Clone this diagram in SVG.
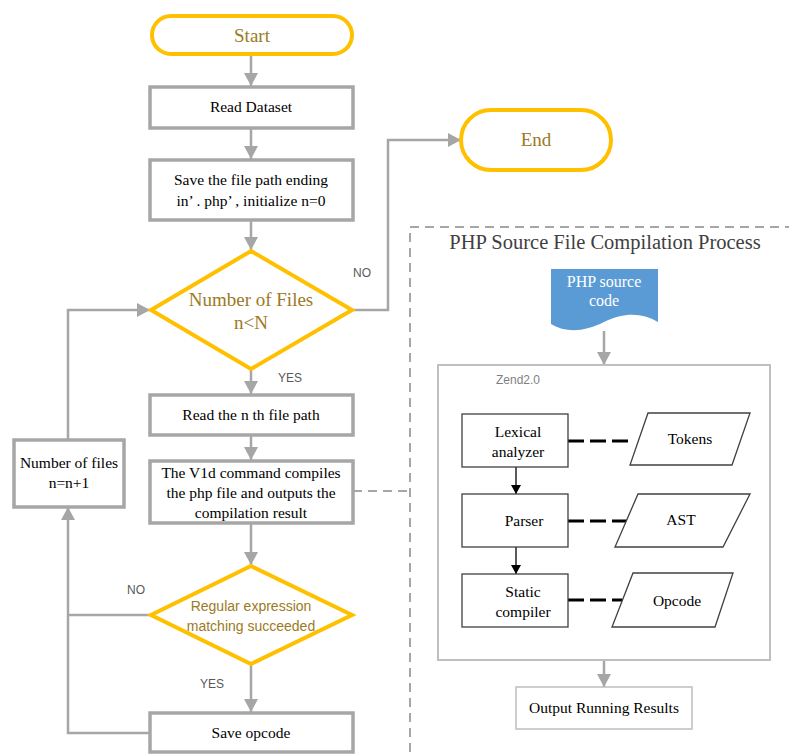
<svg xmlns="http://www.w3.org/2000/svg" width="789" height="756" viewBox="0 0 789 756">
<style>
.term{fill:#fff;stroke:#FFC000;stroke-width:4}
.box{fill:#fff;stroke:#A6A6A6;stroke-width:3.5}
.dia{fill:#fff;stroke:#FFC000;stroke-width:4}
.thin{fill:#fff;stroke:#404040;stroke-width:1.3}
.t{font-family:"Liberation Serif","Times New Roman",serif;font-size:15.5px;fill:#000;text-anchor:middle}
.g{font-family:"Liberation Serif","Times New Roman",serif;font-size:19px;fill:#9C7A1E;text-anchor:middle}
.lbl{font-family:"Liberation Sans",Arial,sans-serif;font-size:12px;fill:#595959}
.c{fill:none;stroke:#A6A6A6;stroke-width:2.5}
.k{fill:none;stroke:#000;stroke-width:1.3}
.kd{fill:none;stroke:#000;stroke-width:3;stroke-dasharray:16 6}
</style>
<defs>
<marker id="ag" markerUnits="userSpaceOnUse" markerWidth="14" markerHeight="14" refX="13" refY="7" orient="auto"><path d="M0,0 L13,7 L0,14 Z" fill="#A6A6A6"/></marker>
<marker id="ak" markerUnits="userSpaceOnUse" markerWidth="10" markerHeight="10" refX="9" refY="5" orient="auto"><path d="M0,0 L9,5 L0,10 Z" fill="#000"/></marker>
</defs>
<rect width="789" height="756" fill="#fff"/>

<g id="connectors">
<path class="c" d="M251,54 V86" marker-end="url(#ag)"/>
<path class="c" d="M251,128 V159" marker-end="url(#ag)"/>
<path class="c" d="M251,220 V250" marker-end="url(#ag)"/>
<path class="c" d="M352,310 H388 V140 H461" marker-end="url(#ag)"/>
<path class="c" d="M251,370 V394" marker-end="url(#ag)"/>
<path class="c" d="M251,435 V460" marker-end="url(#ag)"/>
<path class="c" d="M251,523 V565" marker-end="url(#ag)"/>
<path class="c" d="M251,665 V712" marker-end="url(#ag)"/>
<path class="c" d="M68,439 V310 H150" marker-end="url(#ag)"/>
<path class="c" d="M150,733 H68 V507" marker-end="url(#ag)"/>
<path class="c" d="M150,615 H68"/>
<path class="c" d="M604,331 V365" marker-end="url(#ag)"/>
<path class="c" d="M604,660 V687" marker-end="url(#ag)"/>
<path d="M353,491 H410" fill="none" stroke="#A6A6A6" stroke-width="2" stroke-dasharray="9 6"/>
<path class="k" d="M516,467 V494" marker-end="url(#ak)"/>
<path class="k" d="M516,547 V574" marker-end="url(#ak)"/>
<path class="kd" d="M568,441 H632"/>
<path class="kd" d="M568,521 H627"/>
<path class="kd" d="M568,600 H622"/>
<text class="lbl" x="353" y="277">NO</text>
<text class="lbl" x="278" y="382">YES</text>
<text class="lbl" x="127" y="594">NO</text>
<text class="lbl" x="200" y="688">YES</text>
</g>

<g id="compilation-process">
<rect x="410" y="227" width="390" height="540" fill="none" stroke="#A6A6A6" stroke-width="2" stroke-dasharray="9 6"/>
<text x="605" y="249" font-family="Liberation Serif,Times New Roman,serif" font-size="20.5" fill="#404040" text-anchor="middle">PHP Source File Compilation Process</text>
</g>

<g id="start"><rect class="term" x="152" y="16" width="200" height="38" rx="19"/><text class="g" x="252" y="42">Start</text></g>
<g id="read-dataset"><rect class="box" x="150" y="87" width="203" height="41"/><text class="t" x="251" y="112">Read Dataset</text></g>
<g id="save-path"><rect class="box" x="150" y="160" width="203" height="60"/><text class="t" x="251" y="185">Save the file path ending</text><text class="t" x="251" y="206">in’ . php’ , initialize n=0</text></g>
<g id="end"><rect class="term" x="461" y="110" width="150" height="60" rx="30"/><text class="g" x="536" y="146">End</text></g>
<g id="files-check"><polygon class="dia" points="251,251 352,310 251,369 151,310"/><text class="g" x="251" y="306" font-size="17.5">Number of Files</text><text class="g" x="251" y="329" font-size="17.5">n&lt;N</text></g>
<g id="read-nth"><rect class="box" x="150" y="395" width="203" height="40"/><text class="t" x="251" y="420">Read the n th file path</text></g>
<g id="v1d"><rect class="box" x="150" y="461" width="203" height="62"/><text class="t" x="251" y="478" font-size="16.5">The V1d command compiles</text><text class="t" x="251" y="498" font-size="16.5">the php file and outputs the</text><text class="t" x="251" y="518" font-size="16.5">compilation result</text></g>
<g id="increment"><rect class="box" x="14" y="440" width="110" height="67"/><text class="t" x="69" y="468" font-size="16">Number of files</text><text class="t" x="69" y="488" font-size="16">n=n+1</text></g>
<g id="regex-check"><polygon class="dia" points="251,566 352,615 251,664 151,615"/><text x="251" y="611" font-family="Liberation Sans,Arial,sans-serif" font-size="14" fill="#9C7A1E" text-anchor="middle">Regular expression</text><text x="251" y="631" font-family="Liberation Sans,Arial,sans-serif" font-size="14" fill="#9C7A1E" text-anchor="middle">matching succeeded</text></g>
<g id="save-opcode"><rect class="box" x="150" y="713" width="203" height="39"/><text class="t" x="251" y="738">Save opcode</text></g>

<g id="php-source"><path d="M551,269 H658 V322 C642,313 625,312 604,322 C584,332 566,333 551,324 Z" fill="#5B9BD5"/><text x="604" y="287" font-family="Liberation Serif,Times New Roman,serif" font-size="16" fill="#fff" text-anchor="middle">PHP source</text><text x="604" y="306" font-family="Liberation Serif,Times New Roman,serif" font-size="16" fill="#fff" text-anchor="middle">code</text></g>
<g id="zend"><rect x="438" y="365" width="332" height="295" fill="none" stroke="#BFBFBF" stroke-width="2"/><text x="518" y="384" font-family="Liberation Sans,Arial,sans-serif" font-size="12" fill="#7F7F7F" text-anchor="middle">Zend2.0</text></g>
<g id="lexical"><rect class="thin" x="462" y="414" width="106" height="53"/><text class="t" x="518" y="437" font-size="15">Lexical</text><text class="t" x="518" y="457" font-size="15">analyzer</text></g>
<g id="parser"><rect class="thin" x="462" y="494" width="106" height="53"/><text class="t" x="524" y="526" font-size="15">Parser</text></g>
<g id="static-compiler"><rect class="thin" x="462" y="574" width="106" height="53"/><text class="t" x="523" y="597" font-size="15">Static</text><text class="t" x="523" y="617" font-size="15">compiler</text></g>
<g id="tokens"><polygon class="thin" points="648,413 750,413 732,465 630,465"/><text class="t" x="690" y="444" font-size="15">Tokens</text></g>
<g id="ast"><polygon class="thin" points="638,494 750,494 723,547 615,547"/><text class="t" x="681" y="525" font-size="15">AST</text></g>
<g id="opcode"><polygon class="thin" points="633,573 733,573 715,627 612,627"/><text class="t" x="677" y="606" font-size="15">Opcode</text></g>
<g id="output"><rect x="516" y="687" width="176" height="42" fill="#fff" stroke="#BFBFBF" stroke-width="1.5"/><text class="t" x="604" y="713" font-size="16">Output Running Results</text></g>
</svg>
